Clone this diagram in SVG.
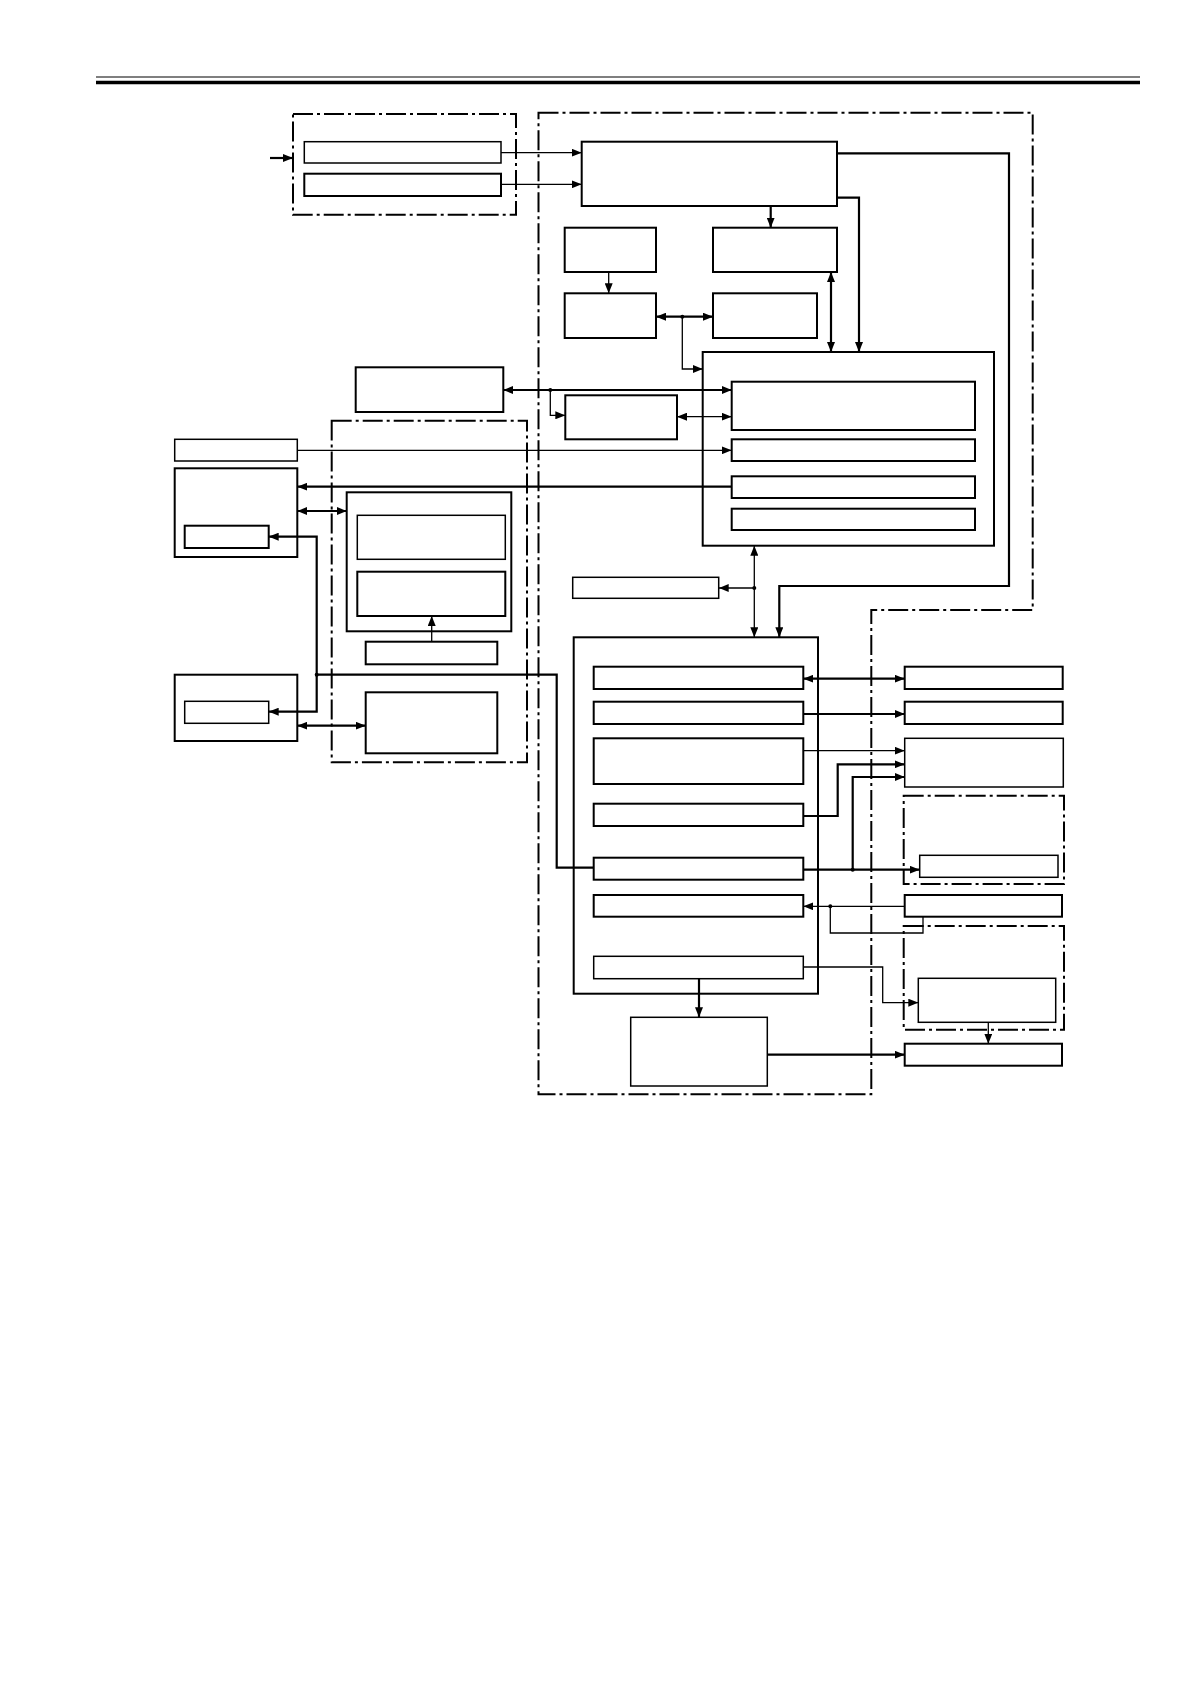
<svg xmlns="http://www.w3.org/2000/svg" width="1190" height="1684" viewBox="0 0 1190 1684">
<defs>
<marker id="ae" viewBox="0 0 10 8" refX="10" refY="4" markerWidth="10" markerHeight="8" markerUnits="userSpaceOnUse" orient="auto-start-reverse"><path d="M0,0 L10,4 L0,8 Z" fill="#000"/></marker>
<style>
.b{fill:#fff;stroke:#000;stroke-width:2}
.bt{fill:#fff;stroke:#000;stroke-width:1.5}
.d{fill:none;stroke:#000;stroke-width:2;stroke-dasharray:20 4 3 4}
.c{fill:none;stroke:#000;stroke-width:1.3}
.k{fill:none;stroke:#000;stroke-width:2.2}
.e{marker-end:url(#ae)}
.s{marker-start:url(#ae)}
.dot{fill:#000}
</style>
</defs>
<rect width="1190" height="1684" fill="#fff"/>
<g id="header">
<line x1="96" y1="77" x2="1140" y2="77" stroke="#000" stroke-width="1.2"/>
<line x1="96" y1="82.5" x2="1140" y2="82.5" stroke="#000" stroke-width="3.5"/>
</g>
<g id="groups">
<rect class="d" x="293" y="114" width="223" height="100.7"/>
<path class="d" d="M538.5,112.7 H1032.7 V610 H871.3 V1094.3 H538.5 Z"/>
<rect class="d" x="331.7" y="420.7" width="195.3" height="341.6"/>
<rect class="d" x="903.7" y="795.7" width="160.3" height="88.3"/>
<rect class="d" x="903.7" y="926" width="160.3" height="103.7"/>
</g>
<g id="nodes">
<g id="in1"><rect class="bt" x="304.3" y="141.7" width="196.7" height="21.3"/></g>
<g id="in2"><rect class="b" x="304.3" y="173.7" width="196.7" height="22.3"/></g>
<g id="A"><rect class="b" x="581.7" y="141.7" width="255.3" height="64.3"/></g>
<g id="B"><rect class="b" x="564.7" y="227.7" width="91.3" height="44.3"/></g>
<g id="C"><rect class="b" x="713" y="227.7" width="124" height="44.3"/></g>
<g id="E"><rect class="b" x="564.7" y="293.3" width="91.3" height="44.7"/></g>
<g id="F"><rect class="b" x="713" y="293.3" width="104" height="44.7"/></g>
<g id="D"><rect class="b" x="702.7" y="352" width="291.3" height="193.7"/></g>
<g id="D1"><rect class="b" x="731.7" y="381.7" width="243.3" height="48.3"/></g>
<g id="D2"><rect class="b" x="731.7" y="439.3" width="243.3" height="21.7"/></g>
<g id="D3"><rect class="b" x="731.7" y="476.3" width="243.3" height="21.7"/></g>
<g id="D4"><rect class="b" x="731.7" y="508.7" width="243.3" height="21.3"/></g>
<g id="H"><rect class="b" x="355.7" y="367.3" width="147.6" height="44.7"/></g>
<g id="I"><rect class="b" x="565.3" y="395.3" width="111.7" height="44"/></g>
<g id="J"><rect class="bt" x="174.7" y="439.3" width="122.6" height="21.7"/></g>
<g id="K"><rect class="b" x="174.7" y="468.3" width="122.6" height="88.7"/></g>
<g id="Ki"><rect class="b" x="184.7" y="525.7" width="84" height="22.3"/></g>
<g id="N"><rect class="b" x="346.7" y="492.3" width="164.6" height="139"/></g>
<g id="N1"><rect class="bt" x="357.3" y="515.3" width="148" height="44"/></g>
<g id="N2"><rect class="b" x="357.3" y="571.7" width="148" height="44.3"/></g>
<g id="O"><rect class="b" x="365.7" y="641.7" width="131.6" height="22.6"/></g>
<g id="L"><rect class="bt" x="572.7" y="577.3" width="146" height="21"/></g>
<g id="P"><rect class="b" x="174.7" y="674.7" width="122.6" height="66.3"/></g>
<g id="Pi"><rect class="bt" x="184.7" y="701.3" width="84" height="22"/></g>
<g id="Q"><rect class="b" x="365.7" y="692.3" width="131.6" height="61"/></g>
<g id="G"><rect class="b" x="573.7" y="637.3" width="244.3" height="356.4"/></g>
<g id="G1"><rect class="b" x="593.7" y="666.7" width="209.6" height="22.3"/></g>
<g id="G2"><rect class="b" x="593.7" y="701.7" width="209.6" height="22.3"/></g>
<g id="G3"><rect class="b" x="593.7" y="738.3" width="209.6" height="45.7"/></g>
<g id="G4"><rect class="b" x="593.7" y="803.7" width="209.6" height="22.3"/></g>
<g id="G5"><rect class="b" x="593.7" y="857.7" width="209.6" height="22"/></g>
<g id="G6"><rect class="b" x="593.7" y="895" width="209.6" height="21.7"/></g>
<g id="G7"><rect class="bt" x="593.7" y="956.3" width="209.6" height="22.4"/></g>
<g id="R"><rect class="bt" x="630.7" y="1017.3" width="136.6" height="68.7"/></g>
<g id="S1"><rect class="b" x="904.7" y="666.7" width="158" height="22.3"/></g>
<g id="S2"><rect class="b" x="904.7" y="701.7" width="158" height="22.3"/></g>
<g id="S3"><rect class="bt" x="904.7" y="738.3" width="158.6" height="48.7"/></g>
<g id="Ti"><rect class="bt" x="919.7" y="855.3" width="138.3" height="22"/></g>
<g id="S4"><rect class="b" x="904.7" y="895" width="157.3" height="21.7"/></g>
<g id="Ui"><rect class="bt" x="918.3" y="978.3" width="137.4" height="44"/></g>
<g id="S5"><rect class="b" x="904.7" y="1043.7" width="157.3" height="22"/></g>
</g>
<g id="connectors">
<path class="k e" d="M270,158 H293"/>
<path class="c e" d="M501,152.7 H581.7"/>
<path class="c e" d="M501,184.3 H581.7"/>
<path class="k e" d="M837,153.3 H1009 V586 H779.3 V637.3"/>
<path class="k e" d="M837,197.7 H859 V352"/>
<path class="k e" d="M770.7,206 V227.7"/>
<path class="c e" d="M608.7,272 V293.3"/>
<path class="k s e" d="M656,316.7 H713"/>
<path class="c e" d="M682.3,316.7 V369 H702.7"/>
<path class="k s e" d="M831,272 V352"/>
<path class="k s e" d="M503.3,390 H731.7"/>
<path class="c e" d="M550.3,390 V415.3 H565.3"/>
<path class="c s e" d="M677,416.7 H731.7"/>
<path class="c e" d="M297.3,450.3 H731.7"/>
<path class="k e" d="M731.7,486.7 H297.3"/>
<path class="c s e" d="M754.3,545.7 V637.3"/>
<path class="c e" d="M754.3,588 H718.7"/>
<path class="k s e" d="M297.3,511 H346.7"/>
<path class="c e" d="M431.7,641.7 V616"/>
<path class="k s e" d="M268.7,536.7 H316.7 V711.7 H268.7"/>
<path class="k" d="M316.7,674.7 H556.7 V867.7 H593.7"/>
<path class="k s e" d="M297.3,725.7 H365.7"/>
<path class="k s e" d="M803.3,678.7 H904.7"/>
<path class="k e" d="M803.3,714 H904.7"/>
<path class="c e" d="M803.3,750.7 H904.7"/>
<path class="k e" d="M803.3,816 H837.7 V764.3 H904.7"/>
<path class="k e" d="M803.3,869.7 H919.7"/>
<path class="k e" d="M852.7,869.7 V777 H904.7"/>
<path class="c e" d="M904.7,906.3 H803.3"/>
<path class="c" d="M830.3,906.3 V933 H923 V916.7"/>
<path class="c e" d="M803.3,967 H882.7 V1002.7 H918.3"/>
<path class="k e" d="M699,978.7 V1017.3"/>
<path class="c e" d="M988.3,1022.3 V1043.7"/>
<path class="k e" d="M767.3,1054.7 H904.7"/>
<circle class="dot" cx="682.3" cy="316.7" r="2"/>
<circle class="dot" cx="550.3" cy="390" r="2"/>
<circle class="dot" cx="754.3" cy="588" r="2"/>
<circle class="dot" cx="316.7" cy="674.7" r="2"/>
<circle class="dot" cx="852.7" cy="869.7" r="2"/>
<circle class="dot" cx="830.3" cy="906.3" r="2"/>
</g>
</svg>
